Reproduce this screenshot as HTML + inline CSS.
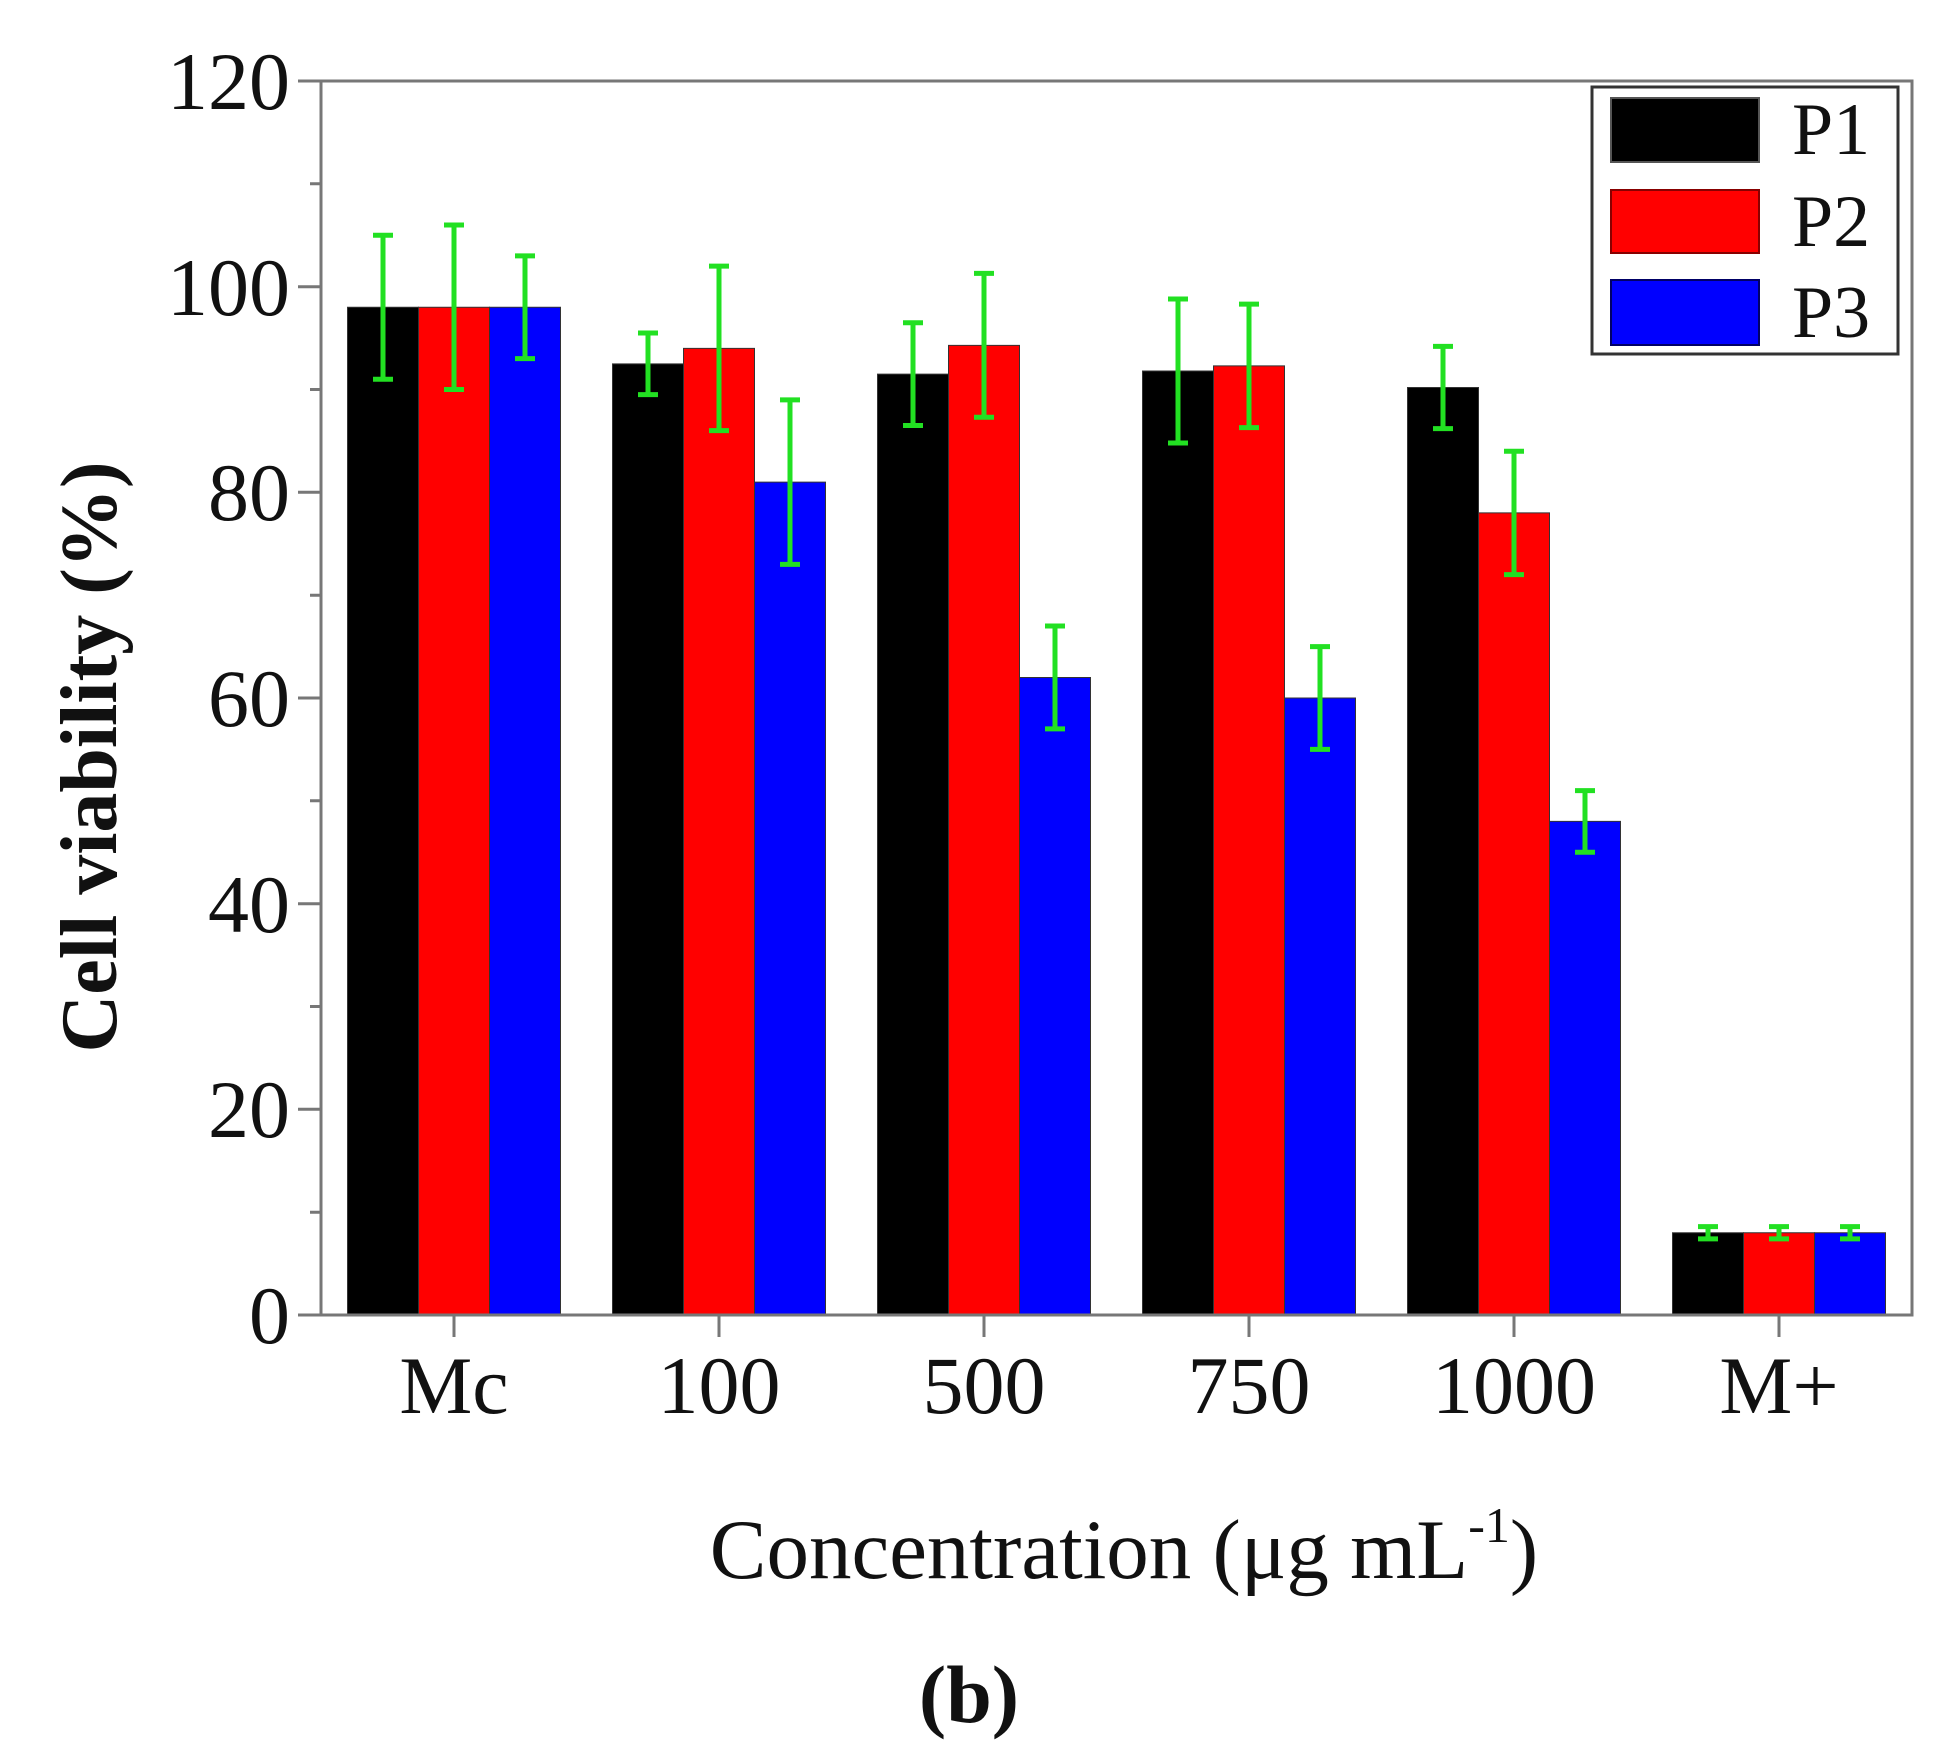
<!DOCTYPE html>
<html><head><meta charset="utf-8"><style>body{margin:0;background:#fff}svg{display:block}</style></head>
<body>
<svg width="1959" height="1751" viewBox="0 0 1959 1751" xmlns="http://www.w3.org/2000/svg" font-family="Liberation Serif, serif">
<rect width="1959" height="1751" fill="#fff"/>
<g transform="translate(0,1315) scale(1,-10.283)" stroke="#333" stroke-width="1">
<rect x="347.5" y="0" width="71" height="98" fill="#000" vector-effect="non-scaling-stroke"/>
<rect x="418.5" y="0" width="71" height="98" fill="#f00" vector-effect="non-scaling-stroke"/>
<rect x="489.5" y="0" width="71" height="98" fill="#00f" vector-effect="non-scaling-stroke"/>
<rect x="612.5" y="0" width="71" height="92.5" fill="#000" vector-effect="non-scaling-stroke"/>
<rect x="683.5" y="0" width="71" height="94" fill="#f00" vector-effect="non-scaling-stroke"/>
<rect x="754.5" y="0" width="71" height="81" fill="#00f" vector-effect="non-scaling-stroke"/>
<rect x="877.5" y="0" width="71" height="91.5" fill="#000" vector-effect="non-scaling-stroke"/>
<rect x="948.5" y="0" width="71" height="94.3" fill="#f00" vector-effect="non-scaling-stroke"/>
<rect x="1019.5" y="0" width="71" height="62" fill="#00f" vector-effect="non-scaling-stroke"/>
<rect x="1142.5" y="0" width="71" height="91.8" fill="#000" vector-effect="non-scaling-stroke"/>
<rect x="1213.5" y="0" width="71" height="92.3" fill="#f00" vector-effect="non-scaling-stroke"/>
<rect x="1284.5" y="0" width="71" height="60" fill="#00f" vector-effect="non-scaling-stroke"/>
<rect x="1407.5" y="0" width="71" height="90.2" fill="#000" vector-effect="non-scaling-stroke"/>
<rect x="1478.5" y="0" width="71" height="78" fill="#f00" vector-effect="non-scaling-stroke"/>
<rect x="1549.5" y="0" width="71" height="48" fill="#00f" vector-effect="non-scaling-stroke"/>
<rect x="1672.5" y="0" width="71" height="8" fill="#000" vector-effect="non-scaling-stroke"/>
<rect x="1743.5" y="0" width="71" height="8" fill="#f00" vector-effect="non-scaling-stroke"/>
<rect x="1814.5" y="0" width="71" height="8" fill="#00f" vector-effect="non-scaling-stroke"/>
<path stroke="#22e022" stroke-width="5" fill="none" vector-effect="non-scaling-stroke" d="M383 91V105M373 91H393M373 105H393 M454 90V106M444 90H464M444 106H464 M525 93V103M515 93H535M515 103H535
M648 89.5V95.5M638 89.5H658M638 95.5H658 M719 86V102M709 86H729M709 102H729 M790 73V89M780 73H800M780 89H800
M913 86.5V96.5M903 86.5H923M903 96.5H923 M984 87.3V101.3M974 87.3H994M974 101.3H994 M1055 57V67M1045 57H1065M1045 67H1065
M1178 84.8V98.8M1168 84.8H1188M1168 98.8H1188 M1249 86.3V98.3M1239 86.3H1259M1239 98.3H1259 M1320 55V65M1310 55H1330M1310 65H1330
M1443 86.2V94.2M1433 86.2H1453M1433 94.2H1453 M1514 72V84M1504 72H1524M1504 84H1524 M1585 45V51M1575 45H1595M1575 51H1595
M1708 7.4V8.6M1698 7.4H1718M1698 8.6H1718 M1779 7.4V8.6M1769 7.4H1789M1769 8.6H1789 M1850 7.4V8.6M1840 7.4H1860M1840 8.6H1860"/>
</g>
<g stroke="#777" stroke-width="3" fill="none">
<rect x="321" y="81" width="1591" height="1234"/>
<path d="M298 81H321M298 286.7H321M298 492.3H321M298 698H321M298 903.7H321M298 1109.3H321M298 1315H321"/>
<path d="M310 183.8H321M310 389.5H321M310 595.2H321M310 800.8H321M310 1006.5H321M310 1212.2H321"/>
<path d="M454 1315V1337M719 1315V1337M984 1315V1337M1249 1315V1337M1514 1315V1337M1779 1315V1337"/>
</g>
<g font-size="82" text-anchor="end" fill="#111">
<text x="290" y="109">120</text>
<text x="290" y="315">100</text>
<text x="290" y="520">80</text>
<text x="290" y="726">60</text>
<text x="290" y="932">40</text>
<text x="290" y="1137">20</text>
<text x="290" y="1343">0</text>
</g>
<g font-size="82" text-anchor="middle" fill="#111">
<text x="454" y="1413">Mc</text>
<text x="719" y="1413">100</text>
<text x="984" y="1413">500</text>
<text x="1249" y="1413">750</text>
<text x="1514" y="1413">1000</text>
<text x="1779" y="1413">M+</text>
</g>
<text x="1124" y="1578" font-size="85" text-anchor="middle" fill="#111">Concentration (μg mL<tspan font-size="50" dy="-36">-1</tspan><tspan dy="36">)</tspan></text>
<text transform="translate(116,757) rotate(-90)" font-size="80" font-weight="bold" text-anchor="middle" fill="#111">Cell viability (%)</text>
<text x="969" y="1722" font-size="82" font-weight="bold" text-anchor="middle" fill="#111">(b)</text>
<rect x="1592" y="87" width="306" height="267" fill="#fff" stroke="#333" stroke-width="3"/>
<rect x="1611" y="98" width="148" height="64" fill="#000" stroke="#555" stroke-width="2"/>
<rect x="1611" y="190" width="148" height="63" fill="#f00" stroke="#800" stroke-width="2"/>
<rect x="1611" y="280" width="148" height="65" fill="#00f" stroke="#006" stroke-width="2"/>
<g font-size="74" fill="#111">
<text x="1792" y="154">P1</text>
<text x="1792" y="246">P2</text>
<text x="1792" y="337">P3</text>
</g>
</svg>
</body></html>
